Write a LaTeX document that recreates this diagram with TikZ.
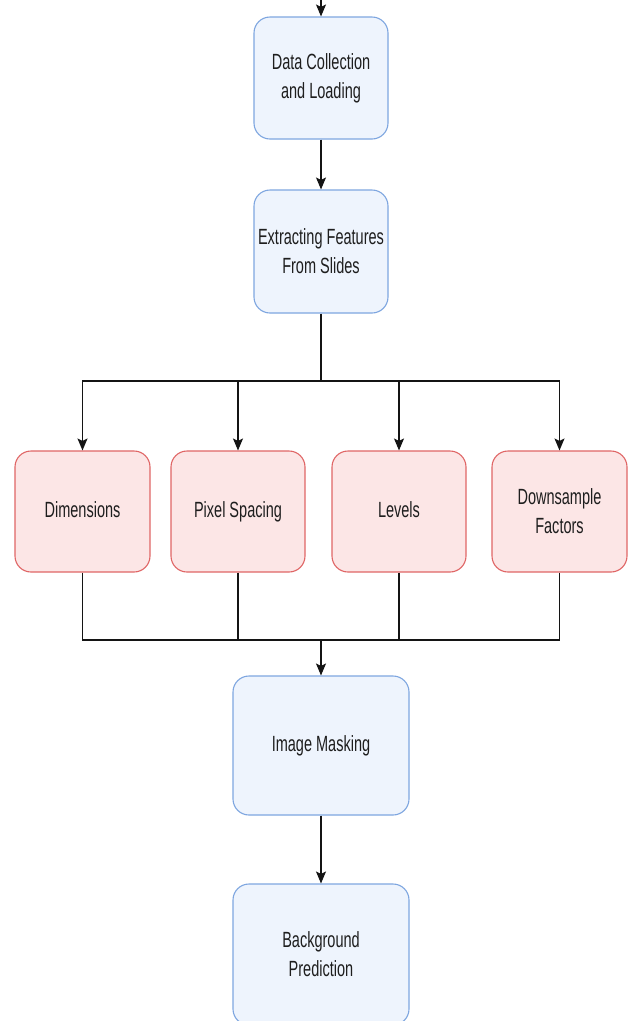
\documentclass[tikz,border=0pt]{standalone}
\usepackage{fontspec}
\newfontfamily\dfont[FakeStretch=0.66]{Liberation Sans}
\usetikzlibrary{arrows.meta}
\definecolor{bluefill}{RGB}{238,244,253}
\definecolor{blueline}{RGB}{126,166,224}
\definecolor{redfill}{RGB}{252,230,230}
\definecolor{redline}{RGB}{224,102,102}
\definecolor{txt}{RGB}{30,30,30}
\definecolor{ln}{RGB}{20,20,20}
\newcommand{\lh}{\vphantom{Pg}}
\tikzset{
  box/.style={draw, line width=1.1pt, rounded corners=16pt, align=center, text=txt,
    font=\dfont\fontsize{22}{29}\selectfont, inner sep=0pt},
  bluebox/.style={box, fill=bluefill, draw=blueline},
  redbox/.style={box, fill=redfill, draw=redline},
  conn/.style={draw=ln, line width=1.2pt},
  arr/.style={conn, -{Stealth[length=12pt,width=10pt,inset=2.5pt]}}
}
\begin{document}
\begin{tikzpicture}[x=1pt,y=-1pt]
\clip (0,0) rectangle (629,1021);
\fill[white] (0,0) rectangle (629,1021);
\node[bluebox, minimum width=134pt, minimum height=122pt] (load) at (321,78) {Data Collection\\and Loading};
\node[bluebox, minimum width=134pt, minimum height=123pt] (feat) at (321,251.5) {Extracting Features\\From Slides};
\node[redbox, minimum width=135pt, minimum height=121pt] (dim) at (82.5,511.5) {\lh Dimensions};
\node[redbox, minimum width=134pt, minimum height=121pt] (pix) at (238,511.5) {\lh Pixel Spacing};
\node[redbox, minimum width=134pt, minimum height=121pt] (lev) at (399,511.5) {\lh Levels};
\node[redbox, minimum width=135pt, minimum height=121pt] (down) at (559.5,511.5) {Downsample\\Factors};
\node[bluebox, minimum width=176pt, minimum height=139pt] (mask) at (321,745.5) {\lh Image Masking};
\node[bluebox, minimum width=176pt, minimum height=141pt] (bg) at (321,954.5) {Background\\Prediction};
\coordinate (top) at (321,-2);
\coordinate (split) at (321,381);
\coordinate (join) at (321,640);
\draw[arr] (top) -- (load.north);
\draw[arr] (load.south) -- (feat.north);
\draw[conn] (feat.south) -- (split);
\draw[arr] (split) -| (dim.north);
\draw[arr] (split) -| (pix.north);
\draw[arr] (split) -| (lev.north);
\draw[arr] (split) -| (down.north);
\draw[conn] (dim.south) |- (join);
\draw[conn] (pix.south) |- (join);
\draw[conn] (lev.south) |- (join);
\draw[conn] (down.south) |- (join);
\draw[arr] (join) -- (mask.north);
\draw[arr] (mask.south) -- (bg.north);
\end{tikzpicture}
\end{document}
